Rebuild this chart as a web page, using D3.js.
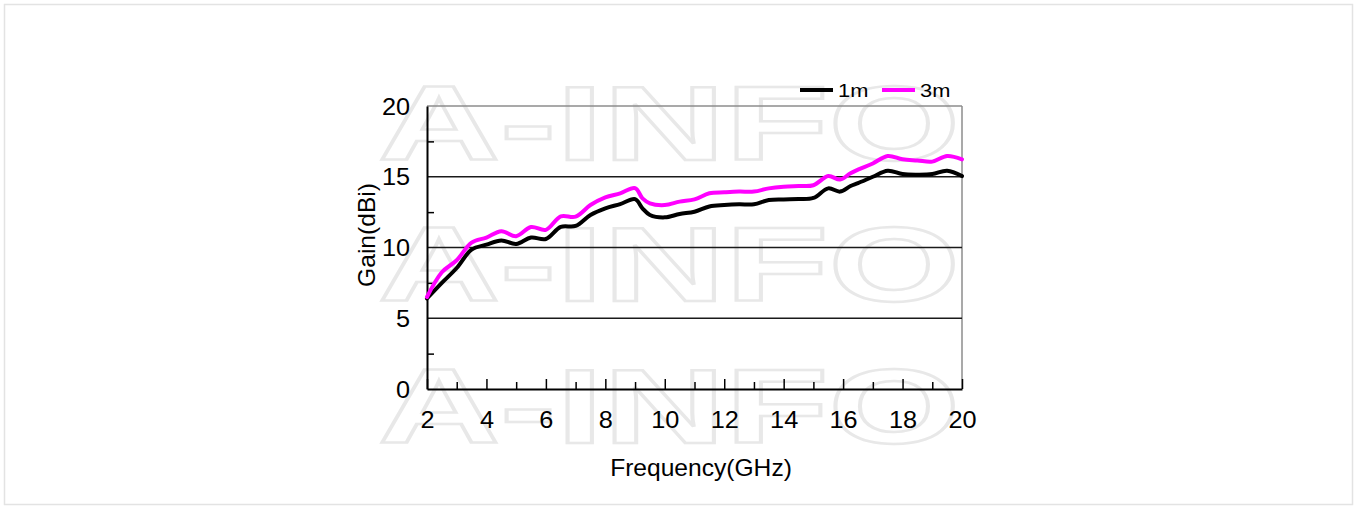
<!DOCTYPE html>
<html><head><meta charset="utf-8">
<script src="https://cdn.jsdelivr.net/npm/d3@7/dist/d3.min.js"></script>
<style>
body{margin:0;background:#fff;}
svg{display:block;}
text{font-family:"Liberation Sans",Arial,sans-serif;fill:#000;}
</style>
</head><body>
<svg id="c" width="1357" height="507"></svg>
<script>
// ---- data ----
const freq   = [2, 2.5, 3, 3.5, 4, 4.5, 5, 5.5, 6, 6.5, 7, 7.5, 8, 8.5, 9, 9.25, 9.5, 10, 10.5, 11, 11.5, 12, 12.5, 13, 13.5, 14, 14.5, 15, 15.5, 15.9, 16.25, 16.5, 17, 17.5, 18, 18.5, 19, 19.5, 20];
const gain1m = [6.4, 7.5, 8.55, 9.85, 10.2, 10.5, 10.25, 10.7, 10.6, 11.45, 11.52, 12.3, 12.77, 13.07, 13.42, 12.77, 12.3, 12.13, 12.37, 12.53, 12.9, 13.0, 13.05, 13.05, 13.36, 13.4, 13.42, 13.5, 14.18, 13.95, 14.35, 14.55, 15.0, 15.43, 15.19, 15.15, 15.19, 15.43, 15.05];
const gain3m = [6.5, 8.25, 9.1, 10.35, 10.7, 11.15, 10.8, 11.45, 11.25, 12.2, 12.18, 13.0, 13.54, 13.83, 14.2, 13.47, 13.12, 13.0, 13.24, 13.4, 13.83, 13.9, 13.95, 13.95, 14.18, 14.3, 14.35, 14.4, 15.05, 14.8, 15.25, 15.5, 15.94, 16.47, 16.23, 16.15, 16.07, 16.47, 16.23];
const seriesNames  = ["1m", "3m"];
const seriesColors = ["#000000", "#ff00ff"];
const xTickLabels = [2, 4, 6, 8, 10, 12, 14, 16, 18, 20];
const yTickLabels = [0, 5, 10, 15, 20];
const xTitle = "Frequency(GHz)";
const yTitle = "Gain(dBi)";
const watermark = "A-INFO";

// ---- layout ----
const svg = d3.select("#c");
const L = 427, R = 962, T = 106, B = 389;
const x = d3.scaleLinear().domain([2, 20]).range([L, R]);
const y = d3.scaleLinear().domain([0, 20]).range([B, T]);

// outer frame
svg.append("rect").attr("x", 4.5).attr("y", 4.5).attr("width", 1348).attr("height", 500)
  .attr("fill", "none").attr("stroke", "#e3e3e3").attr("stroke-width", 1.5);

// watermark
[160, 301, 443].forEach(by => {
  svg.append("text").text(watermark)
    .attr("x", 378).attr("y", by)
    .attr("textLength", 582).attr("lengthAdjust", "spacingAndGlyphs")
    .style("font-size", "105px").style("font-weight", "bold")
    .style("fill", "none").style("stroke", "#e8e8e8").style("stroke-width", 2.5);
});

// plot frame top/right
svg.append("line").attr("x1", L).attr("x2", R).attr("y1", T).attr("y2", T).attr("stroke", "#8c8c8c").attr("stroke-width", 1.5);
svg.append("line").attr("x1", R).attr("x2", R).attr("y1", T).attr("y2", B).attr("stroke", "#8c8c8c").attr("stroke-width", 1.5);

// gridlines
svg.append("g").selectAll("line").data(yTickLabels.filter(v => v > 0 && v < 20)).join("line")
  .attr("x1", L).attr("x2", R).attr("y1", d => y(d)).attr("y2", d => y(d))
  .attr("stroke", "#1a1a1a").attr("stroke-width", 1.4);

// x axis
const xAxis = svg.append("g").attr("transform", `translate(0,${B})`)
  .call(d3.axisBottom(x).tickValues(d3.range(2, 21, 1)).tickSizeInner(-7).tickSizeOuter(0)
    .tickFormat(d => xTickLabels.includes(d) ? d : ""));
xAxis.select(".domain").attr("stroke", "#000").attr("stroke-width", 2);
xAxis.selectAll(".tick line").attr("stroke", "#000").attr("stroke-width", 1.5)
  .attr("y2", d => d % 2 === 0 ? -10 : -7);
xAxis.selectAll(".tick text").attr("y", 0).attr("dy", 0)
  .attr("transform", "translate(0,39) scale(1.1,1)")
  .style("font-size", "23px");

// y axis
const yAxis = svg.append("g").attr("transform", `translate(${L},0)`)
  .call(d3.axisLeft(y).tickValues(d3.range(0, 20.1, 2.5)).tickSizeInner(-7).tickSizeOuter(0)
    .tickFormat(d => yTickLabels.includes(d) ? d : ""));
yAxis.select(".domain").attr("stroke", "#000").attr("stroke-width", 2);
yAxis.selectAll(".tick line").attr("stroke", "#000").attr("stroke-width", 1.5)
  .attr("x2", d => yTickLabels.includes(d) ? 0 : 7);
yAxis.selectAll(".tick text").attr("x", 0).attr("dy", 0)
  .attr("transform", "translate(-17,8) scale(1.1,1)")
  .style("font-size", "23px");

// titles
svg.append("text").text(xTitle).attr("text-anchor", "middle")
  .attr("transform", "translate(701,476) scale(1.07,1)").style("font-size", "23px");
svg.append("text").text(yTitle).attr("text-anchor", "middle")
  .attr("transform", "translate(375,235) rotate(-90) scale(1.07,1)").style("font-size", "23px");

// curves
const series = [gain1m, gain3m];
const line = d3.line().x((d, i) => x(freq[i])).y(d => y(d)).curve(d3.curveCatmullRom.alpha(0.5));
series.forEach((s, k) => {
  svg.append("path").datum(s).attr("d", line)
    .attr("fill", "none").attr("stroke", seriesColors[k]).attr("stroke-width", 4)
    .attr("stroke-linejoin", "round").attr("stroke-linecap", "round");
});

// legend
const legX = [800, 882];
seriesNames.forEach((n, k) => {
  svg.append("line").attr("x1", legX[k]).attr("x2", legX[k] + 33).attr("y1", 90).attr("y2", 90)
    .attr("stroke", seriesColors[k]).attr("stroke-width", 4);
  svg.append("text").text(n).attr("transform", `translate(${legX[k] + 38},97) scale(1.15,1)`)
    .style("font-size", "19px");
});
</script>
</body></html>
